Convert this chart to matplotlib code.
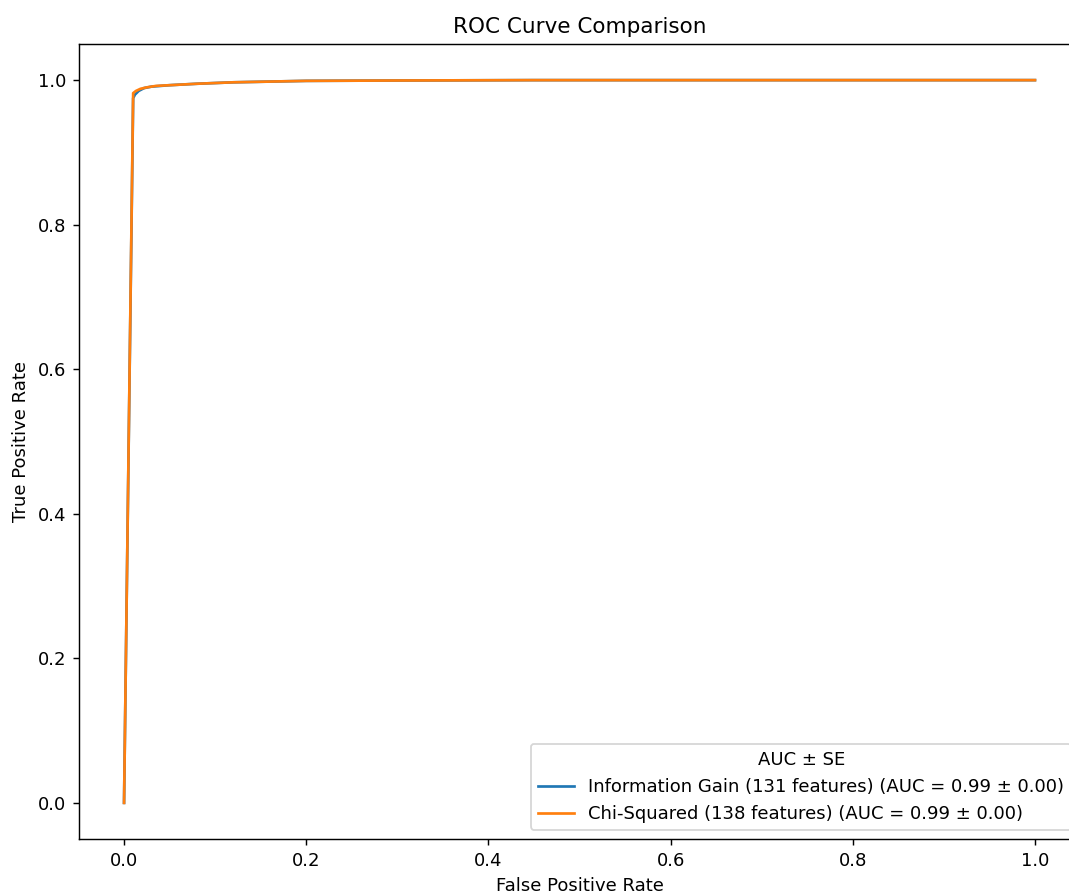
import matplotlib
matplotlib.use("Agg")
import matplotlib.pyplot as plt

# ROC points
ig_fpr = [0.0, 0.010, 0.012, 0.016, 0.022, 0.030, 0.050, 0.080, 0.120, 0.200, 0.300, 0.450, 1.0]
ig_tpr = [0.0, 0.975, 0.980, 0.985, 0.989, 0.991, 0.993, 0.995, 0.997, 0.999, 0.9995, 1.0, 1.0]
chi_fpr = [0.0, 0.010, 0.013, 0.018, 0.025, 0.035, 0.050, 0.080, 0.120, 0.200, 0.300, 0.450, 1.0]
chi_tpr = [0.0, 0.982, 0.985, 0.988, 0.990, 0.992, 0.993, 0.995, 0.997, 0.999, 0.9995, 1.0, 1.0]

labels = [
    "Information Gain (131 features) (AUC = 0.99 ± 0.00)",
    "Chi-Squared (138 features) (AUC = 0.99 ± 0.00)",
]

dpi = 129.3
fig = plt.figure(figsize=(1069 / dpi, 893 / dpi), dpi=dpi)
ax = fig.add_axes([78.5 / 1069, 54 / 893, 1002 / 1069, 795 / 893])

ax.plot(ig_fpr, ig_tpr, label=labels[0])
ax.plot(chi_fpr, chi_tpr, label=labels[1])

ax.set_xlabel("False Positive Rate")
ax.set_ylabel("True Positive Rate")
ax.set_title("ROC Curve Comparison")
ax.legend(loc="lower right", title="AUC ± SE")

fig.savefig("out.png", dpi=dpi)
